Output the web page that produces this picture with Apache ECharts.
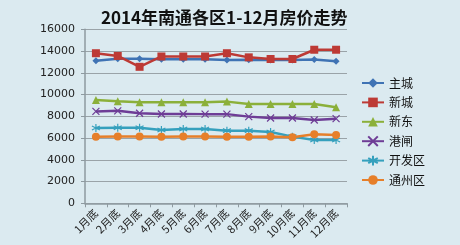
<!DOCTYPE html>
<html><head><meta charset="utf-8">
<script src="https://cdn.jsdelivr.net/npm/echarts@6/dist/echarts.min.js"></script>
<style>html,body{margin:0;padding:0;background:#dbeaf0}#c{width:460px;height:245px}</style>
</head><body><div id="c"></div>
<script>
var categories = ['1月底','2月底','3月底','4月底','5月底','6月底','7月底','8月底','9月底','10月底','11月底','12月底'];
var seriesNames = ['主城','新城','新东','港闸','开发区','通州区'];
var zhucheng = [13100,13300,13300,13250,13250,13250,13180,13200,13180,13180,13220,13060];
var xincheng = [13800,13550,12550,13500,13500,13500,13800,13420,13270,13270,14120,14120];
var xindong = [9500,9380,9300,9300,9300,9300,9350,9130,9130,9130,9130,8830];
var gangzha = [8450,8500,8280,8210,8210,8200,8200,7970,7840,7840,7660,7780];
var kaifaqu = [6920,6950,6950,6740,6830,6830,6680,6680,6560,6130,5820,5820];
var tongzhou = [6130,6150,6150,6130,6150,6150,6130,6130,6150,6070,6340,6280];
var yTicks = [0,2000,4000,6000,8000,10000,12000,14000,16000];

var colors = ['#3f73b4','#bd3a35','#8bb03a','#6e3d96','#35a0bd','#e67f2a'];
var symbols = ['diamond','rect','triangle','path://M0,0L10,10M10,0L0,10','path://M5,0L5,10M0,2.5L10,7.5M0,7.5L10,2.5','circle'];
var sizes = [7,8,8,7,8,8];
var datas = [zhucheng,xincheng,xindong,gangzha,kaifaqu,tongzhou];

var chart = echarts.init(document.getElementById('c'));
var series = datas.map(function(d,i){
  var pathSym = symbols[i].indexOf('path://')===0;
  return {
    name: seriesNames[i], type:'line', data:d, symbol:symbols[i], symbolSize:sizes[i],
    showAllSymbol:true,
    lineStyle:{color:colors[i], width:2.5},
    itemStyle:{color: pathSym ? 'rgba(0,0,0,0)' : colors[i], borderColor:colors[i], borderWidth: pathSym ? 1.2 : 0},
    emphasis:{disabled:true}, animation:false
  };
});
chart.setOption({
  backgroundColor:'#dbeaf0',
  color: colors,
  title:{text:'2014年南通各区1-12月房价走势', left:96, top:4,
    textStyle:{fontSize:17, fontWeight:'bold', color:'#111', fontFamily:'"Noto Sans CJK SC", sans-serif'}},
  legend:{orient:'vertical', left:356, top:72, itemGap:7.4, itemWidth:22, itemHeight:12,
    textStyle:{fontSize:12, color:'#111', fontFamily:'"Noto Sans CJK SC", sans-serif'},
    data: seriesNames},
  grid:{left:85, right:113, top:29.3, bottom:41.7},
  xAxis:{type:'category', data:categories, boundaryGap:true,
    axisLine:{lineStyle:{color:'#8e9aa0', width:1.5}},
    axisTick:{show:true, length:4, lineStyle:{color:'#8e9aa0'}},
    axisLabel:{rotate:45, fontSize:11, color:'#222', margin:8, fontFamily:'"Noto Sans CJK SC", sans-serif'}},
  yAxis:{type:'value', min:0, max:16000, interval:2000,
    axisLine:{show:true, lineStyle:{color:'#8e9aa0', width:1.5}},
    axisTick:{show:true, length:4, lineStyle:{color:'#8e9aa0'}},
    splitLine:{lineStyle:{color:'#9aa3a8', width:1.2}},
    axisLabel:{fontSize:11, color:'#222', margin:10, fontFamily:'"DejaVu Sans", sans-serif',
      formatter:function(v){return String(v);}}},
  series: series
});
</script></body></html>
